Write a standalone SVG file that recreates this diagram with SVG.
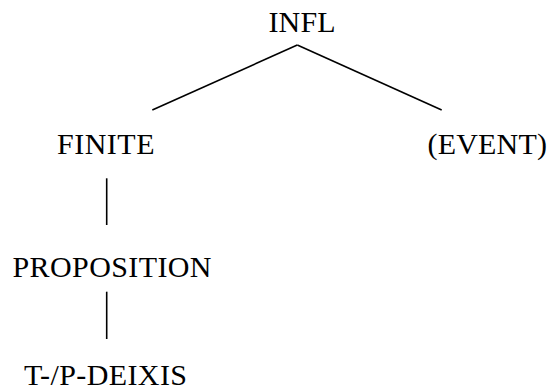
<svg xmlns="http://www.w3.org/2000/svg" width="548" height="388" viewBox="0 0 548 388">
<style>
.e{stroke:#000;stroke-width:1.6;fill:none}
</style>
<rect width="548" height="388" fill="#fff"/>
<g id="connectors">
<line class="e" x1="297.3" y1="45" x2="152.3" y2="110"/>
<line class="e" x1="297.3" y1="45" x2="441.7" y2="110"/>
<line class="e" x1="106.7" y1="178.3" x2="106.7" y2="225"/>
<line class="e" x1="106.7" y1="291.7" x2="106.7" y2="339"/>
</g>
<g font-family="'Liberation Serif', 'Times New Roman', serif" font-size="30" fill="#000">
<g id="infl"><text x="268.5" y="32" textLength="67">INFL</text></g>
<g id="finite"><text x="57" y="153.5" textLength="97.5">FINITE</text></g>
<g id="event"><text x="427.5" y="153.5" textLength="119.5">(EVENT)</text></g>
<g id="proposition"><text x="12.5" y="276.7" textLength="199">PROPOSITION</text></g>
<g id="deixis"><text x="24" y="384.5" textLength="163">T-/P-DEIXIS</text></g>
</g>
</svg>
